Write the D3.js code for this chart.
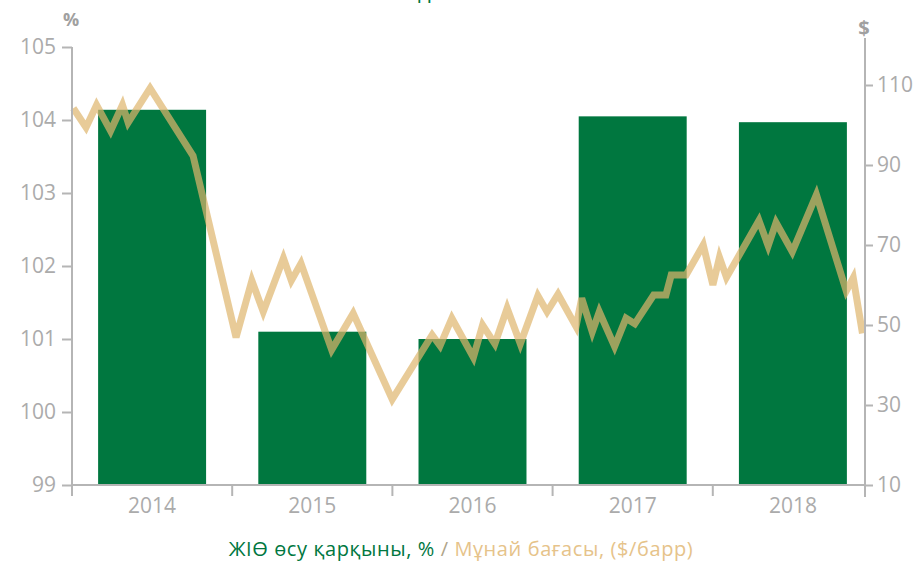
<!DOCTYPE html>
<html><head><meta charset="utf-8">
<script src="https://cdn.jsdelivr.net/npm/d3@7"></script>
<style>
html,body{margin:0;padding:0;background:#fff;}
svg{display:block;font-family:"Open Sans",sans-serif;}
</style></head>
<body><svg id="chart" width="922" height="562"></svg>
<script>
// ---- data ----
const years = ["2014", "2015", "2016", "2017", "2018"];
const gdpGrowth = [104.14, 101.1, 101.0, 104.05, 103.97];
const oilDates = ["2014-01-04","2014-02-02","2014-02-26","2014-03-30","2014-04-26","2014-05-09","2014-06-28","2014-10-04",
  "2015-01-10","2015-02-15","2015-03-13","2015-04-28","2015-05-16","2015-06-07","2015-08-16","2015-10-04",
  "2016-01-01","2016-04-01","2016-04-19","2016-05-16","2016-07-04","2016-07-25","2016-08-22","2016-09-19","2016-10-19","2016-11-28","2016-12-19",
  "2017-01-13","2017-02-23","2017-03-08","2017-04-01","2017-04-17","2017-05-22","2017-06-17","2017-07-07","2017-08-19","2017-09-16","2017-09-28","2017-11-01","2017-12-10",
  "2018-01-01","2018-01-16","2018-02-01","2018-04-16","2018-05-07","2018-05-25","2018-07-01","2018-08-25","2018-11-01","2018-11-17","2018-12-08"];
const oilPrice = [104.2,99.4,105,98.5,105,100.6,109.2,92.3,
  46.9,61.1,53.3,66.7,61.1,65.4,43.8,52.9,
  31.4,47.5,44.8,51.7,41.9,50,45.3,54.2,45.3,57.3,53.3,
  57.7,49.6,56.7,48.3,53.3,44.6,51.7,50.3,57.5,57.5,62.5,62.5,70,
  60,66.9,61.9,76.1,69.8,75.6,68.3,82.6,58.5,61.8,47.9];
const leftTicks = [99, 100, 101, 102, 103, 104, 105];
const rightTicks = [10, 30, 50, 70, 90, 110];
const leftUnit = "%";
const rightUnit = "$";
const legendGdp = "ЖІӨ өсу қарқыны, %";
const legendSep = " / ";
const legendOil = "Мұнай бағасы, ($/барр)";

// ---- layout ----
const X0 = 72, X1 = 873, YB = 485, YT = 47, RX = 865;
const GREEN = "#00773F", TAN = "#DEB56C", AX = "#b5b5b5", LBL = "#ababab";

const svg = d3.select("#chart");
const x = d3.scaleBand().domain(years).range([X0, X1]).paddingInner(0.326).paddingOuter(0.163);
const yL = d3.scaleLinear().domain([99, 105]).range([YB, YT]);
const yR = d3.scaleLinear().domain([10, 119.5]).range([YB, YT]);
const parse = d3.timeParse("%Y-%m-%d");
const xt = d3.scaleTime().domain([new Date(2014,0,1), new Date(2019,0,1)]).range([X0, X1]);

// fragment of the cut-off title at the top
svg.append("text").attr("x", 418).attr("y", -1).attr("fill", GREEN)
  .attr("font-size", 22).text("д");

// bars
svg.append("g").selectAll("rect").data(years).join("rect")
  .attr("x", d => x(d)).attr("width", x.bandwidth())
  .attr("y", (d,i) => yL(gdpGrowth[i]))
  .attr("height", (d,i) => YB - yL(gdpGrowth[i]))
  .attr("fill", GREEN);

// oil line
const pts = oilDates.map((d,i) => [xt(parse(d)), yR(oilPrice[i])]);
svg.append("path").attr("d", d3.line()(pts))
  .attr("fill", "none").attr("stroke", TAN).attr("stroke-width", 7)
  .attr("stroke-opacity", 0.7).attr("stroke-linejoin", "miter");

// left axis
const gl = svg.append("g").attr("transform", `translate(${X0},0)`)
  .call(d3.axisLeft(yL).tickValues(leftTicks).tickSize(10).tickPadding(6).tickFormat(d3.format("d")));
gl.select(".domain").remove();
gl.append("line").attr("x1",0).attr("x2",0).attr("y1",YT).attr("y2",YB).attr("stroke",AX).attr("stroke-width",2);
gl.selectAll(".tick line").attr("stroke", AX).attr("stroke-width", 2);
gl.selectAll(".tick text").attr("fill", LBL).attr("font-size", 21).attr("font-family","Open Sans");

// right axis
const gr = svg.append("g").attr("transform", `translate(${RX},0)`)
  .call(d3.axisRight(yR).tickValues(rightTicks).tickSize(8).tickPadding(4).tickFormat(d3.format("d")));
gr.select(".domain").remove();
gr.append("line").attr("x1",0).attr("x2",0).attr("y1",38).attr("y2",497).attr("stroke",AX).attr("stroke-width",2);
gr.selectAll(".tick line").attr("stroke", AX).attr("stroke-width", 2);
gr.selectAll(".tick text").attr("fill", LBL).attr("font-size", 21).attr("font-family","Open Sans");

// bottom axis
const gb = svg.append("g").attr("transform", `translate(0,${YB})`);
gb.append("line").attr("x1", X0).attr("x2", RX).attr("y1", 0).attr("y2", 0).attr("stroke", AX).attr("stroke-width", 2);
const bounds = years.map(d => x(d) - x.step()*x.paddingInner()/2);
bounds[0] = X0;
gb.selectAll("line.tk").data(bounds).join("line").attr("class","tk")
  .attr("x1", d => d).attr("x2", d => d).attr("y1", 0).attr("y2", 11)
  .attr("stroke", AX).attr("stroke-width", 2);
gb.selectAll("text").data(years).join("text")
  .attr("x", d => x(d) + x.bandwidth()/2).attr("y", 28)
  .attr("text-anchor", "middle").attr("fill", LBL).attr("font-size", 21).text(d => d);

// unit labels
svg.append("text").attr("x", 71).attr("y", 26).attr("text-anchor","middle")
  .attr("fill", "#a0a0a0").attr("font-weight", "bold").attr("font-size", 18).text(leftUnit);
svg.append("text").attr("x", 864).attr("y", 35).attr("text-anchor","middle")
  .attr("fill", "#a0a0a0").attr("font-weight", "bold").attr("font-size", 20).text(rightUnit);

// legend
const lg = svg.append("text").attr("x", 461).attr("y", 556).attr("text-anchor", "middle")
  .attr("font-size", 20).attr("letter-spacing", 0.6);
lg.append("tspan").attr("fill", GREEN).text(legendGdp);
lg.append("tspan").attr("fill", "#b0a58a").text(legendSep);
lg.append("tspan").attr("fill", "#E6C38A").text(legendOil);
</script>
</body></html>
